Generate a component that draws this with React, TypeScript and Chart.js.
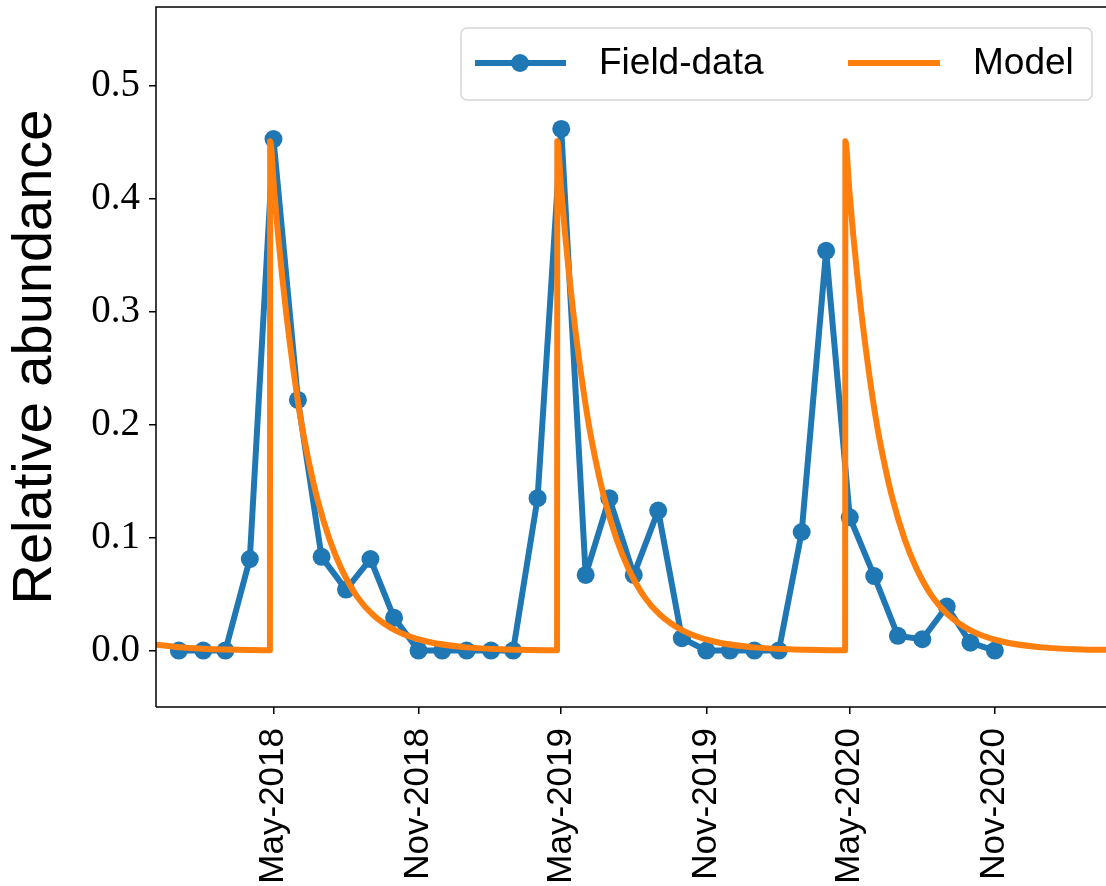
import React, { useEffect, useRef } from 'react';
import { Chart, registerables } from 'chart.js';

Chart.register(...registerables);

// Field data: first day of each month, Jan-2018 .. Nov-2020
const FIELD_MONTHS = [
  '2018-01', '2018-02', '2018-03', '2018-04', '2018-05', '2018-06', '2018-07', '2018-08', '2018-09', '2018-10', '2018-11', '2018-12',
  '2019-01', '2019-02', '2019-03', '2019-04', '2019-05', '2019-06', '2019-07', '2019-08', '2019-09', '2019-10', '2019-11', '2019-12',
  '2020-01', '2020-02', '2020-03', '2020-04', '2020-05', '2020-06', '2020-07', '2020-08', '2020-09', '2020-10', '2020-11',
];
const FIELD_VALUES = [
  0, 0, 0, 0.081, 0.453, 0.222, 0.083, 0.054, 0.081, 0.029, 0, 0,
  0, 0, 0, 0.135, 0.462, 0.067, 0.135, 0.067, 0.124, 0.011, 0, 0,
  0, 0, 0.105, 0.354, 0.118, 0.066, 0.013, 0.010, 0.039, 0.007, 0,
];

// Model curve (days since 2018-01-01, relative abundance)
const MODEL_DAYS = [
  -29, 0, 30, 60, 90, 115.5,
  115.8, 120.8, 125.8, 130.8, 135.8, 145.8, 155.8, 165.8, 175.8, 190.8, 205.8, 225.8, 245.8, 275.8, 315.8, 365.8, 415.8, 479.7,
  480.0, 485, 490, 495, 500, 510, 520, 530, 540, 555, 570, 590, 610, 640, 680, 730, 780, 845.1,
  845.4, 850.4, 855.4, 860.4, 865.4, 875.4, 885.4, 895.4, 905.4, 920.4, 935.4, 955.4, 975.4, 1005.4, 1045.4, 1095.4, 1145.4, 1176,
];
const MODEL_VALUES = [
  0.0052, 0.0029, 0.0016, 0.0009, 0.0005, 0.0003,
  0.451, 0.408, 0.368, 0.333, 0.301, 0.246, 0.200, 0.164, 0.134, 0.099, 0.073, 0.048, 0.032, 0.0175, 0.0078, 0.0028, 0.0010, 0.0003,
  0.451, 0.408, 0.368, 0.333, 0.301, 0.246, 0.200, 0.164, 0.134, 0.099, 0.073, 0.048, 0.032, 0.0175, 0.0078, 0.0028, 0.0010, 0.0003,
  0.451, 0.408, 0.368, 0.333, 0.301, 0.246, 0.200, 0.164, 0.134, 0.099, 0.073, 0.048, 0.032, 0.0175, 0.0078, 0.0028, 0.0010, 0.0006,
];

const X_TICK_DATES = ['2018-05-01', '2018-11-01', '2019-05-01', '2019-11-01', '2020-05-01', '2020-11-01'];
const X_TICK_LABELS = ['May-2018', 'Nov-2018', 'May-2019', 'Nov-2019', 'May-2020', 'Nov-2020'];
const Y_TICKS = [0.0, 0.1, 0.2, 0.3, 0.4, 0.5];

const SERIES_NAMES = ['Field-data', 'Model'];
const Y_LABEL = 'Relative abundance';

const BLUE = '#1f77b4';
const ORANGE = '#ff7f0e';

const ORIGIN = Date.UTC(2018, 0, 1);
const toDay = (iso: string) => {
  const [y, m, d] = iso.split('-').map(Number);
  return (Date.UTC(y, m - 1, d || 1) - ORIGIN) / 86400000;
};

const X_TICK_VALUES = X_TICK_DATES.map(toDay);

const framePlugin = {
  id: 'frameAndLegend',
  afterDraw(chart: any) {
    const { ctx, chartArea: a } = chart;
    ctx.save();
    // spines
    ctx.strokeStyle = '#000';
    ctx.lineWidth = 1.5;
    ctx.lineCap = 'butt';
    ctx.beginPath();
    ctx.moveTo(a.left, a.bottom);
    ctx.lineTo(a.left, a.top);
    ctx.lineTo(a.right + 10, a.top);
    ctx.moveTo(a.left, a.bottom);
    ctx.lineTo(a.right + 10, a.bottom);
    ctx.stroke();

    // legend
    const bx = 461, by = 28, bw = 631, bh = 72, r = 6;
    ctx.beginPath();
    ctx.moveTo(bx + r, by);
    ctx.lineTo(bx + bw - r, by);
    ctx.arcTo(bx + bw, by, bx + bw, by + r, r);
    ctx.lineTo(bx + bw, by + bh - r);
    ctx.arcTo(bx + bw, by + bh, bx + bw - r, by + bh, r);
    ctx.lineTo(bx + r, by + bh);
    ctx.arcTo(bx, by + bh, bx, by + bh - r, r);
    ctx.lineTo(bx, by + r);
    ctx.arcTo(bx, by, bx + r, by, r);
    ctx.closePath();
    ctx.fillStyle = 'rgba(255,255,255,0.8)';
    ctx.fill();
    ctx.strokeStyle = '#d6d6d6';
    ctx.lineWidth = 1.5;
    ctx.stroke();

    const ly = 63;
    ctx.lineWidth = 6;
    ctx.strokeStyle = BLUE;
    ctx.beginPath();
    ctx.moveTo(475, ly);
    ctx.lineTo(566, ly);
    ctx.stroke();
    ctx.fillStyle = BLUE;
    ctx.beginPath();
    ctx.arc(520, ly, 9, 0, Math.PI * 2);
    ctx.fill();

    ctx.strokeStyle = ORANGE;
    ctx.beginPath();
    ctx.moveTo(848, ly);
    ctx.lineTo(940, ly);
    ctx.stroke();

    ctx.fillStyle = '#000';
    ctx.font = '37px "Liberation Sans", Arial, sans-serif';
    ctx.textBaseline = 'middle';
    ctx.textAlign = 'left';
    ctx.fillText(SERIES_NAMES[0], 599, ly + 1);
    ctx.fillText(SERIES_NAMES[1], 973, ly + 1);
    ctx.restore();
  },
};

export default function App() {
  const ref = useRef<HTMLCanvasElement | null>(null);

  useEffect(() => {
    if (!ref.current) return;
    const fieldData = FIELD_MONTHS.map((m, i) => ({ x: toDay(m + '-01'), y: FIELD_VALUES[i] }));
    const modelData = MODEL_DAYS.map((d, i) => ({ x: d, y: MODEL_VALUES[i] }));

    const chart = new Chart(ref.current, {
      type: 'line',
      data: {
        datasets: [
          {
            label: SERIES_NAMES[1],
            data: modelData,
            borderColor: ORANGE,
            backgroundColor: ORANGE,
            borderWidth: 6,
            pointRadius: 0,
            pointHoverRadius: 0,
            cubicInterpolationMode: 'monotone',
            borderJoinStyle: 'round',
            borderCapStyle: 'round',
            fill: false,
          },
          {
            label: SERIES_NAMES[0],
            data: fieldData,
            borderColor: BLUE,
            backgroundColor: BLUE,
            borderWidth: 6,
            pointRadius: 9,
            pointHoverRadius: 9,
            pointBorderWidth: 0,
            pointBackgroundColor: BLUE,
            tension: 0,
            borderJoinStyle: 'round',
            fill: false,
          },
        ],
      },
      options: {
        responsive: false,
        animation: false,
        devicePixelRatio: 1,
        layout: { autoPadding: false, padding: { top: 7, right: 0, left: 0, bottom: 0 } },
        plugins: {
          legend: { display: false },
          tooltip: { enabled: false },
        },
        scales: {
          x: {
            type: 'linear',
            min: -29,
            max: 1176,
            border: { display: false },
            grid: {
              display: true,
              drawOnChartArea: false,
              drawTicks: true,
              tickLength: 7,
              color: '#000',
              lineWidth: 1.5,
            },
            ticks: {
              autoSkip: false,
              minRotation: 90,
              maxRotation: 90,
              padding: 14,
              color: '#000',
              font: { family: '"Liberation Sans", Arial, sans-serif', size: 35 },
              callback: (v: any) => {
                const idx = X_TICK_VALUES.indexOf(Number(v));
                return idx >= 0 ? X_TICK_LABELS[idx] : '';
              },
            },
            afterBuildTicks: (scale: any) => {
              scale.ticks = X_TICK_VALUES.map((value) => ({ value }));
            },
            afterFit: (scale: any) => {
              scale.height = 179;
              scale.paddingLeft = 0;
              scale.paddingRight = 0;
              scale.paddingTop = 0;
              scale.paddingBottom = 0;
            },
          },
          y: {
            type: 'linear',
            min: -0.05,
            max: 0.57,
            border: { display: false },
            grid: {
              display: true,
              drawOnChartArea: false,
              drawTicks: true,
              tickLength: 7,
              color: '#000',
              lineWidth: 1.5,
            },
            ticks: {
              padding: 9,
              color: '#000',
              font: { family: '"Liberation Serif", "Times New Roman", serif', size: 39 },
              callback: (v: any) => Number(v).toFixed(1),
            },
            afterBuildTicks: (scale: any) => {
              scale.ticks = Y_TICKS.map((value) => ({ value }));
            },
            title: {
              display: true,
              text: Y_LABEL,
              color: '#000',
              font: { family: '"Liberation Sans", Arial, sans-serif', size: 56 },
              padding: { top: 2, bottom: 0 },
            },
            afterFit: (scale: any) => {
              scale.width = 156;
              scale.paddingLeft = 0;
              scale.paddingRight = 0;
              scale.paddingTop = 0;
              scale.paddingBottom = 0;
            },
          },
        },
      },
      plugins: [framePlugin],
    } as any);

    return () => chart.destroy();
  }, []);

  return (
    <div style={{ position: 'absolute', left: 0, top: 0, width: 1106, height: 886, overflow: 'hidden', background: '#fff' }}>
      <canvas ref={ref} width={1106} height={886} style={{ display: 'block' }} />
    </div>
  );
}
